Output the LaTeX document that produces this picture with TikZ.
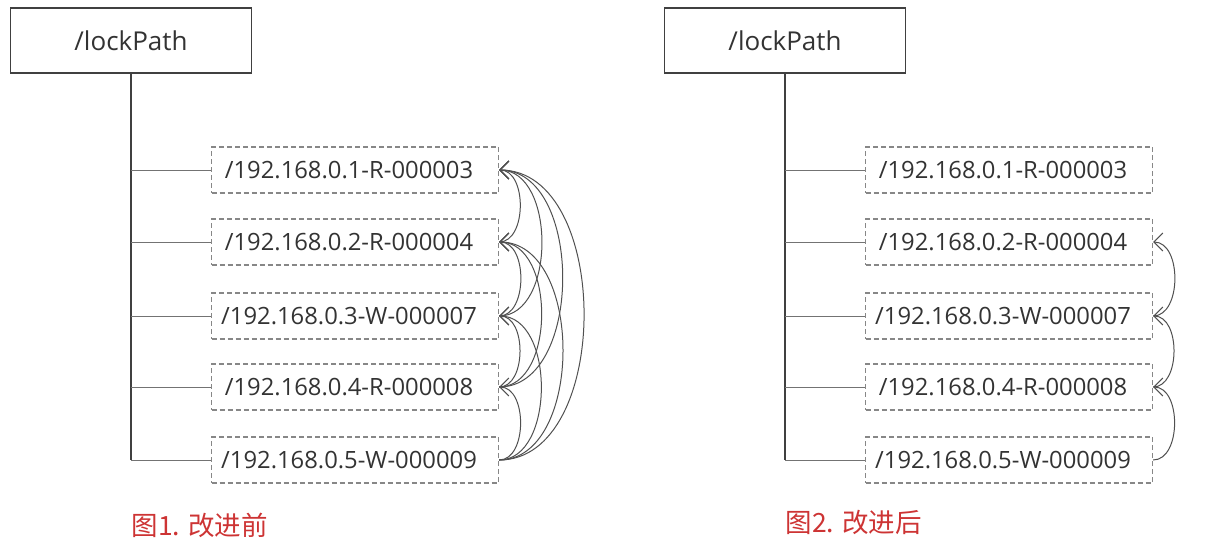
\documentclass[tikz,border=0pt]{standalone}
\usepackage{fontspec}
\setmainfont{Open Sans}
\newfontfamily\cjk{Noto Sans CJK SC}
\usetikzlibrary{arrows.meta}
\definecolor{capred}{RGB}{205,52,52}
\definecolor{boxgray}{RGB}{135,135,135}
\definecolor{arcgray}{RGB}{80,80,80}
\begin{document}
\begin{tikzpicture}[x=1pt,y=-1pt,
  rootbox/.style={draw=black!75, line width=1.8pt, minimum width=241pt, minimum height=65pt, inner sep=0pt, font=\fontsize{26}{30}\selectfont, text=black!80},
  leafbox/.style={draw=boxgray, dashed, dash pattern=on 5pt off 3pt, line width=1.2pt, minimum width=287pt, minimum height=46pt, inner sep=0pt, font=\fontsize{23.8}{28}\selectfont, text=black!80},
  trunk/.style={draw=black!75, line width=1.8pt},
  branch/.style={draw=black!55, line width=1pt},
  arc/.style={draw=arcgray, line width=1pt, -{Straight Barb[length=9pt,width=18pt]}},
  caption/.style={font=\cjk\fontsize{26.5}{30}\selectfont, text=capred, anchor=west}]
\useasboundingbox (0,0) rectangle (1210,547);
% ---------- left panel ----------
\node[rootbox] (r1) at (131,40.5) {/lockPath};
\node[leafbox] (a1) at (355,170) {\hspace*{-12pt}/192.168.0.1-R-000003};
\node[leafbox] (a2) at (355,242) {\hspace*{-12pt}/192.168.0.2-R-000004};
\node[leafbox] (a3) at (355,316) {\hspace*{-12pt}/192.168.0.3-W-000007};
\node[leafbox] (a4) at (355,387) {\hspace*{-12pt}/192.168.0.4-R-000008};
\node[leafbox] (a5) at (355,460) {\hspace*{-12pt}/192.168.0.5-W-000009};
\coordinate (ta5) at (r1.south |- a5.west);
\draw[trunk] (r1.south) -- (ta5);
\foreach \i in {1,...,5}{\draw[branch] (r1.south |- a\i.west) -- (a\i.west);}
\foreach \s/\t in {2/1,3/1,3/2,4/1,4/2,4/3,5/1,5/2,5/3,5/4}{
  \draw[arc] (a\s.east) to[out=0,in=0] (a\t.east);}
\node[caption] (c1) at (128,525) {图1. 改进前};
% ---------- right panel ----------
\node[rootbox] (r2) at (785,40.5) {/lockPath};
\node[leafbox] (b1) at (1009,170) {\hspace*{-12pt}/192.168.0.1-R-000003};
\node[leafbox] (b2) at (1009,242) {\hspace*{-12pt}/192.168.0.2-R-000004};
\node[leafbox] (b3) at (1009,316) {\hspace*{-12pt}/192.168.0.3-W-000007};
\node[leafbox] (b4) at (1009,387) {\hspace*{-12pt}/192.168.0.4-R-000008};
\node[leafbox] (b5) at (1009,460) {\hspace*{-12pt}/192.168.0.5-W-000009};
\coordinate (tb5) at (r2.south |- b5.west);
\draw[trunk] (r2.south) -- (tb5);
\foreach \i in {1,...,5}{\draw[branch] (r2.south |- b\i.west) -- (b\i.west);}
\foreach \s/\t in {3/2,4/3,5/4}{
  \draw[arc] (b\s.east) to[out=0,in=0] (b\t.east);}
\node[caption] (c2) at (782,522) {图2. 改进后};
\end{tikzpicture}
\end{document}
